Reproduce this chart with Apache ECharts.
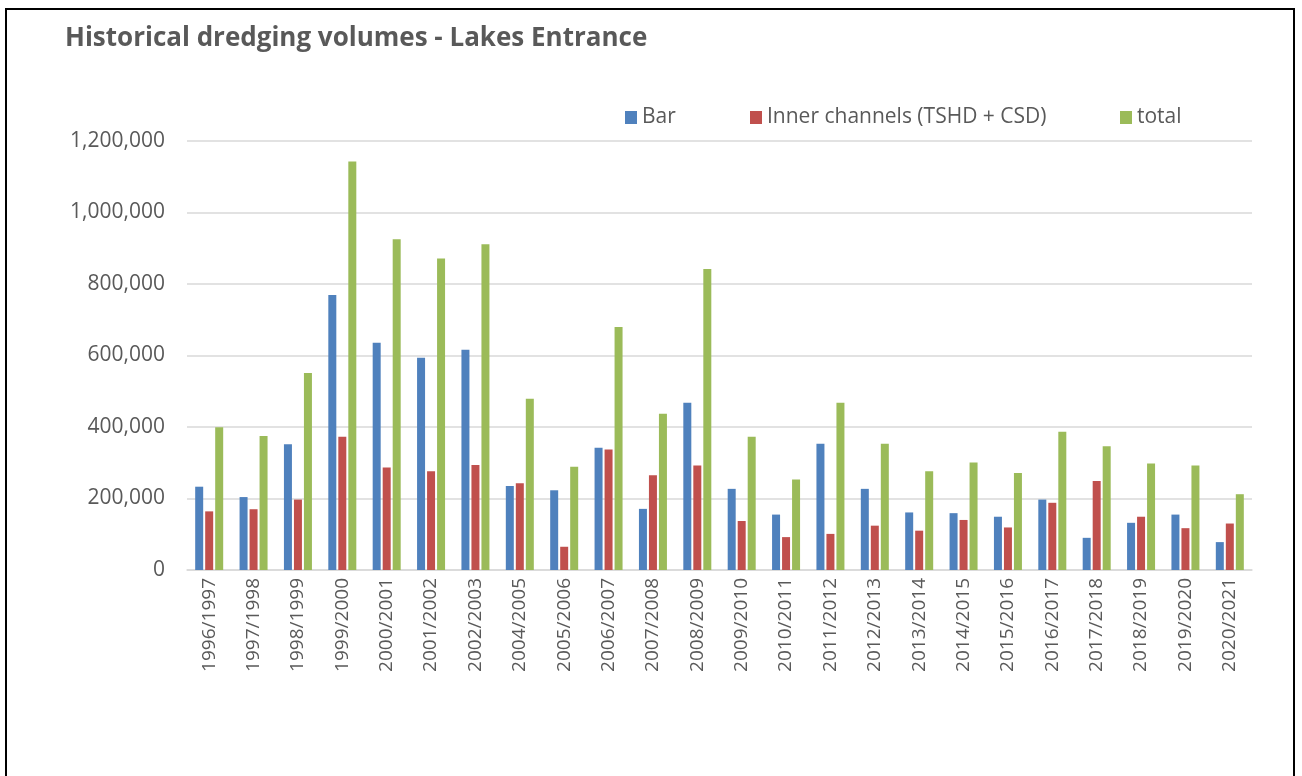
<!DOCTYPE html>
<html><head><meta charset="utf-8">
<script src="https://cdn.jsdelivr.net/npm/echarts@6/dist/echarts.min.js"></script>
<style>html,body{margin:0;padding:0;background:#fff;}#c{width:1302px;height:776px;}</style>
</head><body><div id="c"></div>
<script>
var categories = ['1996/1997','1997/1998','1998/1999','1999/2000','2000/2001','2001/2002','2002/2003','2004/2005','2005/2006','2006/2007','2007/2008','2008/2009','2009/2010','2010/2011','2011/2012','2012/2013','2013/2014','2014/2015','2015/2016','2016/2017','2017/2018','2018/2019','2019/2020','2020/2021'];
var barValues = [233000,204000,352000,769000,636000,594000,616000,235000,223000,342000,171000,468000,227000,155000,353000,227000,161000,159000,149000,197000,90000,132000,155000,78000];
var innerValues = [164000,170000,197000,373000,287000,276000,294000,243000,65000,337000,265000,292000,137000,92000,101000,124000,110000,140000,119000,188000,249000,149000,117000,130000];
var totalValues = [399000,375000,551000,1143000,925000,871000,911000,479000,289000,680000,437000,842000,373000,253000,468000,353000,276000,301000,271000,387000,346000,298000,292000,212000];
var seriesNames = ['Bar','Inner channels (TSHD + CSD)','total'];
var colors = ['#4F81BD','#C0504D','#9BBB59'];

var chart = echarts.init(document.getElementById('c'));
var font = '"Open Sans", sans-serif';
var legendPos = [620, 745, 1115];
chart.setOption({
  animation: false,
  color: colors,
  graphic: [{type:'rect', shape:{x:6,y:9,width:1288,height:800}, style:{fill:'none', stroke:'#000', lineWidth:2}, silent:true}],
  title: {text:'Historical dredging volumes - Lakes Entrance', left:60, top:21,
    textStyle:{fontFamily:font, fontSize:26, fontWeight:'bold', color:'#595959'}},
  legend: seriesNames.map(function(n,i){return {data:[n], left:legendPos[i], top:102, itemWidth:12, itemHeight:13, itemGap:8, icon:'rect',
    textStyle:{fontFamily:font, fontSize:21, color:'#595959'}};}),
  grid: {left:187, right:50, top:141, bottom:206, containLabel:false},
  xAxis: {type:'category', data:categories,
    axisLine:{lineStyle:{color:'#D9D9D9', width:1.5}}, axisTick:{show:false},
    axisLabel:{rotate:90, interval:0, fontFamily:font, fontSize:19, color:'#595959', margin:8}},
  yAxis: {type:'value', min:0, max:1200000, interval:200000,
    axisLine:{show:false}, axisTick:{show:false},
    splitLine:{lineStyle:{color:'#D9D9D9', width:1.5}},
    axisLabel:{fontFamily:font, fontSize:21, color:'#595959', margin:22,
      formatter:function(v){return v.toString().replace(/\B(?=(\d{3})+(?!\d))/g, ',');}}},
  series: [
    {name:seriesNames[0], type:'bar', data:barValues, barWidth:8, barGap:'25%'},
    {name:seriesNames[1], type:'bar', data:innerValues, barWidth:8, barGap:'25%'},
    {name:seriesNames[2], type:'bar', data:totalValues, barWidth:8, barGap:'25%'}
  ]
});
</script></body></html>
